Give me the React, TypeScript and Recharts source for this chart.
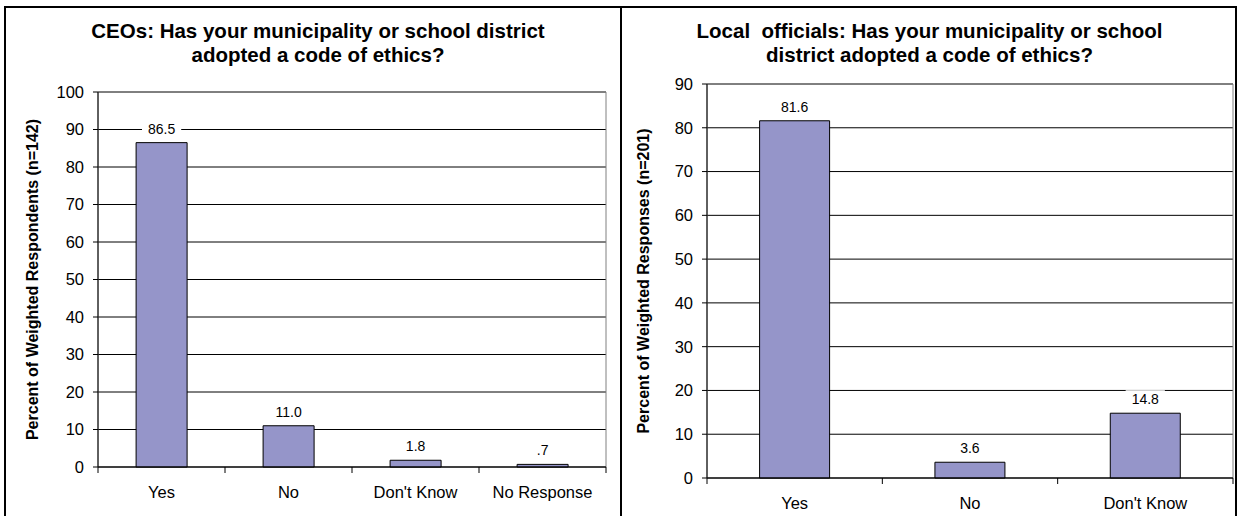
import { Bar, BarChart, CartesianGrid, LabelList, ReferenceArea, XAxis, YAxis } from "recharts"

const FONT = "'Liberation Sans', Arial, sans-serif"
const BAR_FILL = "#9595c9"

// CEO survey
const ceoCategories = ["Yes", "No", "Don't Know", "No Response"]
const ceoValues = [86.5, 11.0, 1.8, 0.7]
const ceoTicks = [0, 10, 20, 30, 40, 50, 60, 70, 80, 90, 100]

// local officials survey
const officialCategories = ["Yes", "No", "Don't Know"]
const officialValues = [81.6, 3.6, 14.8]
const officialTicks = [0, 10, 20, 30, 40, 50, 60, 70, 80, 90]

const Y_AXIS_W = 40
const X_AXIS_H = 30

// 0.7 -> ".7", 11 -> "11.0"
const fmt = (v: number) => v.toFixed(1).replace(/^0\./, ".")

function ValueTag(props: any) {
  const { x, y, width, value } = props
  const cx = x + width / 2
  const cy = y - 14
  const text = fmt(value)
  const w = text.length * 7.8 + 8
  return (
    <g>
      <rect x={cx - w / 2} y={cy - 9} width={w} height={18} fill="#fff" />
      <text x={cx} y={cy} textAnchor="middle" dominantBaseline="central" fontSize={14} fontFamily={FONT} fill="#000">
        {text}
      </text>
    </g>
  )
}

// category label under the bar, with tick marks at the band edges
function CategoryTick(props: any) {
  const { x, y, payload, index, band, count } = props
  const l = x - band / 2
  const r = x + band / 2
  return (
    <g>
      <line x1={l} x2={l} y1={y} y2={y + 6} stroke="#000" />
      {index === count - 1 && <line x1={r} x2={r} y1={y} y2={y + 6} stroke="#000" />}
      <text x={x} y={y + 31} textAnchor="middle" fontSize={16.5} fontFamily={FONT} fill="#000">
        {payload.value}
      </text>
    </g>
  )
}

function SideTitle(props: any) {
  const { viewBox, caption, anchorX } = props
  const cy = viewBox ? viewBox.y + viewBox.height / 2 : 280
  return (
    <text
      x={anchorX}
      y={cy}
      transform={`rotate(-90 ${anchorX} ${cy})`}
      textAnchor="middle"
      dominantBaseline="central"
      fontSize={16}
      fontWeight="bold"
      fontFamily={FONT}
      fill="#000"
    >
      {caption}
    </text>
  )
}

type PanelProps = {
  left: number
  width: number
  titleLines: string[]
  titleShift: number
  yTitle: string
  yTitleX: number
  categories: string[]
  values: number[]
  ticks: number[]
  margin: { top: number; right: number; bottom: number; left: number }
}

function Panel(p: PanelProps) {
  const data = p.categories.map((name, i) => ({ name, value: p.values[i] }))
  const height = 516
  const plotW = p.width - p.margin.left - p.margin.right - Y_AXIS_W
  const band = plotW / p.categories.length
  const max = p.ticks[p.ticks.length - 1]
  return (
    <div style={{ position: "absolute", left: p.left, top: 0, width: p.width, height }}>
      <div
        style={{
          position: "absolute",
          top: 19,
          left: p.titleShift,
          width: p.width,
          textAlign: "center",
          fontFamily: FONT,
          fontWeight: "bold",
          fontSize: 20.5,
          lineHeight: "24px",
          color: "#000",
        }}
      >
        {p.titleLines.map((t) => (
          <div key={t} style={{ whiteSpace: "pre" }}>
            {t}
          </div>
        ))}
      </div>
      <BarChart width={p.width} height={height} data={data} margin={p.margin} barCategoryGap="30%">
        <CartesianGrid vertical={false} stroke="#000" />
        <ReferenceArea y1={0} y2={max} fill="none" stroke="#808080" ifOverflow="visible" />
        <XAxis
          dataKey="name"
          height={X_AXIS_H}
          interval={0}
          tickSize={0}
          tickMargin={0}
          tickLine={false}
          axisLine={{ stroke: "#000" }}
          tick={<CategoryTick band={band} count={p.categories.length} />}
        />
        <YAxis
          width={Y_AXIS_W}
          domain={[0, max]}
          ticks={p.ticks}
          interval={0}
          tickSize={5}
          tickMargin={9}
          axisLine={{ stroke: "#000" }}
          tickLine={{ stroke: "#000" }}
          tick={{ fontSize: 16.5, fill: "#000", fontFamily: FONT }}
          label={<SideTitle caption={p.yTitle} anchorX={p.yTitleX} />}
        />
        <Bar dataKey="value" fill={BAR_FILL} stroke="#000" strokeWidth={1} isAnimationActive={false}>
          <LabelList dataKey="value" content={<ValueTag />} />
        </Bar>
      </BarChart>
    </div>
  )
}

export default function App() {
  return (
    <div
      style={{
        position: "absolute",
        left: 0,
        top: 0,
        width: 1238,
        height: 516,
        overflow: "hidden",
        background: "#fff",
      }}
    >
      <div
        style={{
          position: "absolute",
          left: 4,
          top: 6,
          width: 1229,
          height: 520,
          border: "2px solid #000",
        }}
      />
      <div style={{ position: "absolute", left: 620, top: 6, width: 2, height: 520, background: "#000" }} />
      <Panel
        left={0}
        width={620}
        titleLines={["CEOs: Has your municipality or school district", "adopted a code of ethics?"]}
        titleShift={8}
        yTitle="Percent of Weighted Respondents (n=142)"
        yTitleX={32}
        categories={ceoCategories}
        values={ceoValues}
        ticks={ceoTicks}
        margin={{ top: 92, right: 14, bottom: 516 - 467 - X_AXIS_H, left: 98 - Y_AXIS_W }}
      />
      <Panel
        left={621}
        width={617}
        titleLines={["Local  officials: Has your municipality or school", "district adopted a code of ethics?"]}
        titleShift={0}
        yTitle="Percent of Weighted Responses (n=201)"
        yTitleX={22}
        categories={officialCategories}
        values={officialValues}
        ticks={officialTicks}
        margin={{ top: 84, right: 5, bottom: 516 - 478 - X_AXIS_H, left: 707 - 621 - Y_AXIS_W }}
      />
    </div>
  )
}
